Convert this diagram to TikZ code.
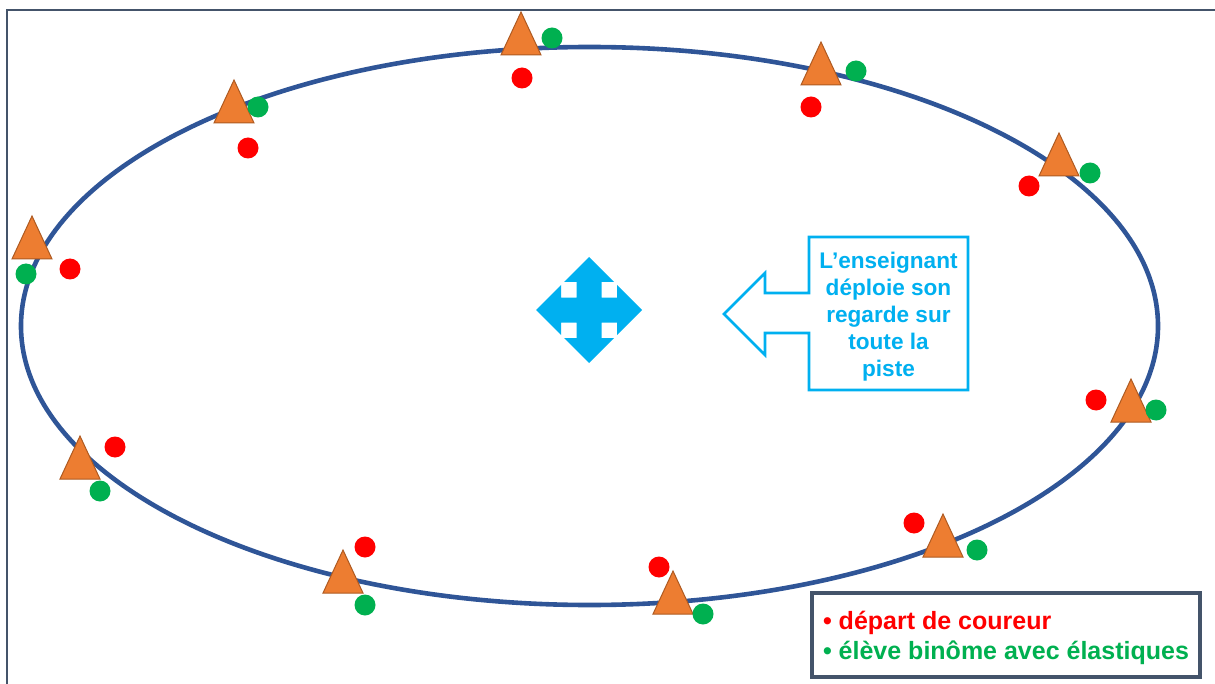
\documentclass[tikz,border=0pt]{standalone}
\usepackage{fontspec}
\setmainfont{Liberation Sans}
\usetikzlibrary{positioning}

\definecolor{piste}{HTML}{2F5597}
\definecolor{cadre}{HTML}{44546A}
\definecolor{plot}{HTML}{ED7D31}
\definecolor{plotbord}{HTML}{AE5A21}
\definecolor{coureur}{HTML}{FF0000}
\definecolor{binome}{HTML}{00B050}
\definecolor{regard}{HTML}{00B0F0}

\tikzset{
	track/.style = {draw=piste, line width=2.3pt},
	frame/.style = {draw=cadre, line width=1.2pt},
	cone/.style = {fill=plot, draw=plotbord, line width=0.5pt, line join=miter},
	dot/.style = {circle, fill=#1, inner sep=0pt, minimum size=10.5pt},
	callout/.style = {draw=regard, line width=1.3pt, fill=white},
	legend/.style = {draw=cadre, line width=1.6pt, inner sep=0pt,
		minimum width=194pt, minimum height=42pt},
}

\begin{document}
\begin{tikzpicture}[x=0.5pt, y=-0.5pt]
	\useasboundingbox (0,0) rectangle (1215,684);
	
	% cadre
	\draw[frame] (1216,10) -- (7,10) -- (7,685);
	
	% piste
	\draw[track] (589.5,326) ellipse [x radius=568.5, y radius=279];
	
	% plots, departs et binomes : base du plot / rouge / vert
	\foreach \i/\px/\py/\rx/\ry/\gx/\gy in {
		1/521/55/522/78/552/38,
		2/821/85/811/107/856/71,
		3/234/123/248/148/258/107,
		4/1059/176/1029/186/1090/173,
		5/32/259/70/269/26/274,
		6/80/479/115/447/100/491,
		7/1131/422/1096/400/1156/410,
		8/343/593/365/547/365/605,
		9/673/614/659/567/703/614,
		10/943/557/914/523/977/550} {
		\coordinate (p\i) at (\px,\py);
		\draw[cone] (p\i) ++(-20,0) -- ++(40,0) -- ++(-20,-43) -- cycle;
		\node[dot=coureur] (r\i) at (\rx,\ry) {};
		\node[dot=binome] (g\i) at (\gx,\gy) {};
	}
	
	% regard de l'enseignant
	\begin{scope}[shift={(589,310)}]
		\fill[regard] (0,-53) -- (25,-28) -- (12.5,-28) -- (12.5,-12.5) -- (28,-12.5) -- (28,-25)
			-- (53,0) -- (28,25) -- (28,12.5) -- (12.5,12.5) -- (12.5,28) -- (25,28)
			-- (0,53) -- (-25,28) -- (-12.5,28) -- (-12.5,12.5) -- (-28,12.5) -- (-28,25)
			-- (-53,0) -- (-28,-25) -- (-28,-12.5) -- (-12.5,-12.5) -- (-12.5,-28) -- (-25,-28) -- cycle;
	\end{scope}
	\coordinate (eye) at (589,310);
	
	\draw[callout] (809,237) -- (968,237) -- (968,390) -- (809,390) -- (809,333) -- (765,333)
		-- (765,355) -- (724,314) -- (765,273) -- (765,293) -- (809,293) -- cycle;
	\node[text=regard, align=center, font=\bfseries\fontsize{11.3}{13.5}\selectfont] (msg) at (888.5,317)
		{L’enseignant\\déploie son\\regarde sur\\toute la\\piste};
	
	% legende
	\node[legend] (key) at (1006,635) {};
	\node[align=left, font=\bfseries\fontsize{12.5}{15}\selectfont] (keytext) at ([yshift=-1.5pt]key.center)
		{\textcolor{coureur}{• départ de coureur}\\\textcolor{binome}{• élève binôme avec élastiques}};
	
\end{tikzpicture}
\end{document}
